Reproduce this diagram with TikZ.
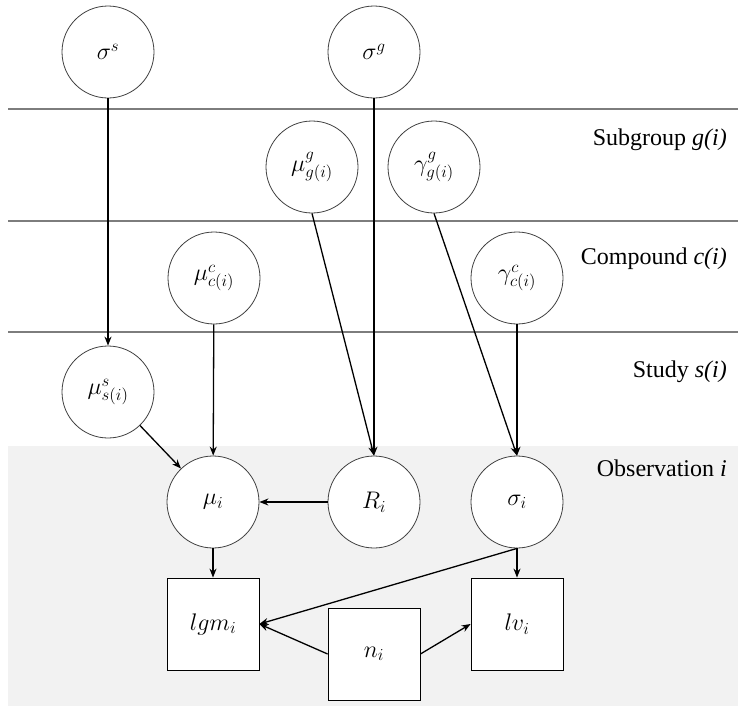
\RequirePackage{fix-cm}
\documentclass[tikz,border=0pt]{standalone}
\usepackage{fontspec}
\setmainfont{Liberation Serif}
\usetikzlibrary{arrows.meta}
\definecolor{obsgray}{RGB}{242,242,242}
\definecolor{rulegray}{RGB}{125,125,125}
\tikzset{
	latent/.style = {circle, draw=black!75, line width=0.8pt, fill=white,
		minimum size=92pt, inner sep=0pt, font=\fontsize{24}{28}\selectfont},
	observed/.style = {rectangle, draw=black, line width=0.8pt, fill=white,
		minimum size=92pt, inner sep=0pt, font=\fontsize{24}{28}\selectfont},
	link/.style = {-{Stealth[length=9pt,width=7pt]}, line width=1.3pt},
	tierlabel/.style = {anchor=base east, inner sep=0pt, font=\fontsize{24}{28}\selectfont},
	tierline/.style = {rulegray, line width=1.4pt}
}
\begin{document}
\begin{tikzpicture}[x=1pt, y=-1pt]
	\useasboundingbox (0,0) rectangle (738,710);
	% plates: observation background and tier rules
	\fill [obsgray] (8,446) rectangle (738,706);
	\draw [tierline] (8,109) -- (738,109) (8,221) -- (738,221) (8,332) -- (738,332);
	\node [tierlabel] at (727,145) {Subgroup \textit{g(i)}};
	\node [tierlabel] at (727,264) {Compound \textit{c(i)}};
	\node [tierlabel] at (727,377) {Study \textit{s(i)}};
	\node [tierlabel] at (727,476) {Observation \textit{i}};
	% hyperparameters
	\node [latent] (sigs) at (108,52) {$\sigma^s$};
	\node [latent] (sigg) at (374,52) {$\sigma^g$};
	% subgroup
	\node [latent] (mug) at (312,167) {$\mu^g_{g(i)}$};
	\node [latent] (gamg) at (434,167) {$\gamma^g_{g(i)}$};
	% compound
	\node [latent] (muc) at (214,278) {$\mu^c_{c(i)}$};
	\node [latent] (gamc) at (517,278) {$\gamma^c_{c(i)}$};
	% study
	\node [latent] (mus) at (108,392) {$\mu^s_{s(i)}$};
	% observation
	\node [latent] (mui) at (213,502) {$\mu_i$};
	\node [latent] (ri) at (374,502) {$R_i$};
	\node [latent] (sigi) at (517,502) {$\sigma_i$};
	\node [observed] (lgm) at (213,624) {$lgm_i$};
	\node [observed] (ni) at (374,654) {$n_i$};
	\node [observed] (lv) at (517,624) {$lv_i$};
	% edges
	\draw [link] (sigs) -- (mus);
	\draw [link] (sigg) -- (ri);
	\draw [link] (mug.south) -- (ri.north);
	\draw [link] (gamg.south) -- (sigi.north);
	\draw [link] (muc) -- (mui);
	\draw [link] (gamc) -- (sigi);
	\draw [link] (mus) -- (mui);
	\draw [link] (ri) -- (mui);
	\draw [link] (mui) -- (lgm);
	\draw [link] (sigi) -- (lv);
	\draw [link] (sigi.south) -- (lgm.east);
	\draw [link] (ni.west) -- (lgm.east);
	\draw [link] (ni.east) -- (lv.west);
\end{tikzpicture}
\end{document}
